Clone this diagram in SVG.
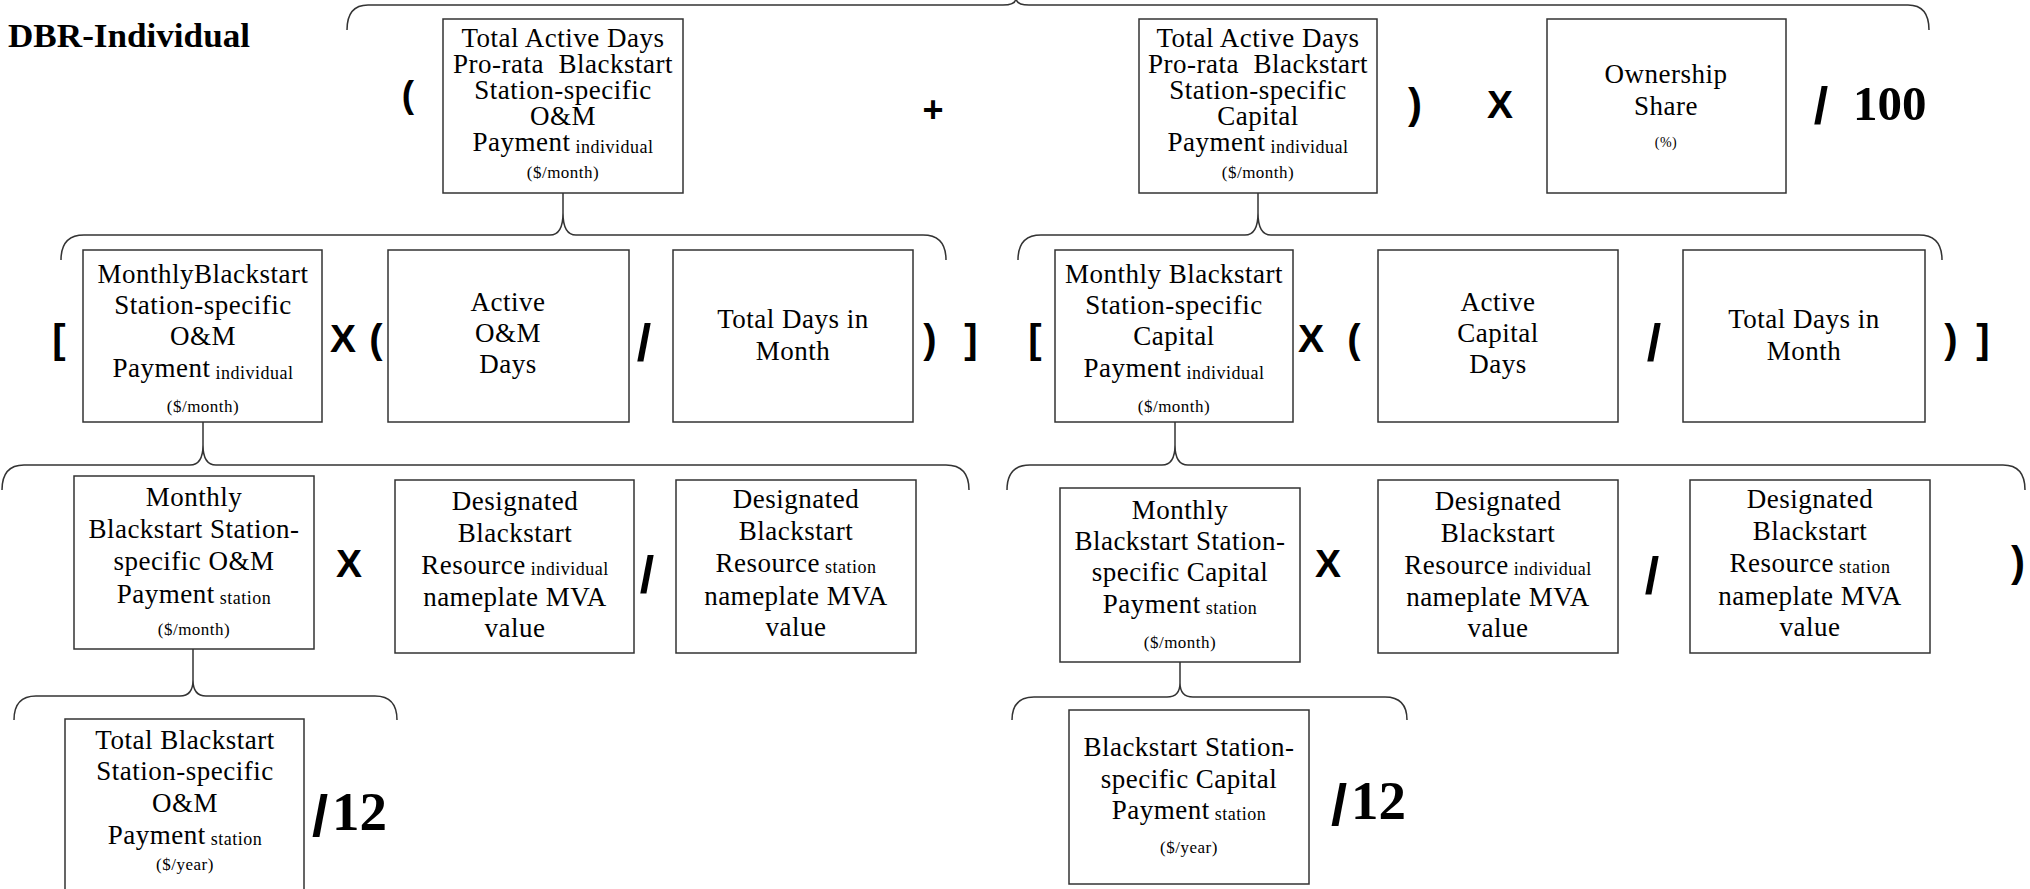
<svg xmlns="http://www.w3.org/2000/svg" width="2030" height="889" viewBox="0 0 2030 889">
<style>
.bg{fill:#fff}
.box{fill:#fff;stroke:#333;stroke-width:1.5}
.t{font-family:"Liberation Serif","Times New Roman",serif;font-size:27px;text-anchor:middle;fill:#000;letter-spacing:0.5px}
.sub{font-size:18px}
.sm{font-size:17px}
.xs{font-size:14px}
.op{font-family:"Liberation Sans",Arial,sans-serif;font-weight:bold;text-anchor:middle;fill:#000}
.num{font-family:"Liberation Serif","Times New Roman",serif;font-weight:bold;fill:#000}
.brace{fill:none;stroke:#333;stroke-width:1.5}
</style>
<rect class="bg" x="0" y="0" width="2030" height="889"/>
<text id="title" class="num" x="8" y="47" font-size="33" textLength="242" lengthAdjust="spacingAndGlyphs">DBR-Individual</text>

<g id="connectors">
  <path class="brace" d="M347 30 Q347 5 368 5 L1003 5 Q1016 5 1016 -2 Q1016 5 1029 5 L1908 5 Q1929 5 1929 30"/>
  <path class="brace" d="M563 193 L563 213"/>
  <path class="brace" d="M61 260 Q61 235 84 235 L550 235 Q563 235 563 213 Q563 235 576 235 L923 235 Q946 235 946 260"/>
  <path class="brace" d="M1258 193 L1258 213"/>
  <path class="brace" d="M1018 260 Q1018 235 1041 235 L1245 235 Q1258 235 1258 213 Q1258 235 1271 235 L1919 235 Q1942 235 1942 260"/>
  <path class="brace" d="M203 422 L203 445"/>
  <path class="brace" d="M2 490 Q2 465 24 465 L190 465 Q203 465 203 445 Q203 465 216 465 L946 465 Q969 465 969 490"/>
  <path class="brace" d="M1175 422 L1175 445"/>
  <path class="brace" d="M1007 490 Q1007 465 1030 465 L1162 465 Q1175 465 1175 445 Q1175 465 1188 465 L2003 465 Q2025 465 2025 490"/>
  <path class="brace" d="M193 649 L193 680"/>
  <path class="brace" d="M14 720 Q14 696 36 696 L180 696 Q193 696 193 680 Q193 696 206 696 L375 696 Q397 696 397 720"/>
  <path class="brace" d="M1180 662 L1180 683"/>
  <path class="brace" d="M1012 720 Q1012 697 1034 697 L1167 697 Q1180 697 1180 683 Q1180 697 1193 697 L1385 697 Q1407 697 1407 720"/>
</g>

<g id="operators">
  <text class="op" x="408" y="107" font-size="37" font-weight="normal">(</text>
  <text class="op" x="933" y="122" font-size="36">+</text>
  <text class="op" x="1415" y="118" font-size="42">)</text>
  <text class="op" x="1500" y="118" font-size="39">X</text>
  <text class="op" x="1821" y="124" font-size="52">/</text>
  <text class="num" x="1853" y="120" font-size="49">100</text>

  <text class="op" x="59" y="353" font-size="40">[</text>
  <text class="op" x="343" y="352" font-size="39">X</text>
  <text class="op" x="376" y="353" font-size="40">(</text>
  <text class="op" x="644" y="361" font-size="52">/</text>
  <text class="op" x="930" y="353" font-size="40">)</text>
  <text class="op" x="971" y="353" font-size="40">]</text>

  <text class="op" x="1035" y="353" font-size="40">[</text>
  <text class="op" x="1311" y="352" font-size="39">X</text>
  <text class="op" x="1354" y="353" font-size="40">(</text>
  <text class="op" x="1654" y="361" font-size="52">/</text>
  <text class="op" x="1951" y="353" font-size="40">)</text>
  <text class="op" x="1983" y="353" font-size="40">]</text>

  <text class="op" x="349" y="577" font-size="39">X</text>
  <text class="op" x="647" y="593" font-size="52">/</text>
  <text class="op" x="1328" y="577" font-size="39">X</text>
  <text class="op" x="1652" y="594" font-size="52">/</text>
  <text class="op" x="2018" y="576" font-size="42">)</text>

  <text class="op" x="320" y="836" font-size="58">/</text>
  <text class="num" x="332" y="830" font-size="55">12</text>
  <text class="op" x="1339" y="825" font-size="58">/</text>
  <text class="num" x="1351" y="819" font-size="55">12</text>
</g>

<g id="node-om-prorata">
  <rect class="box" x="443" y="19" width="240" height="174"/>
  <text class="t" x="563" y="47">Total Active Days</text>
  <text class="t" x="563" y="73" xml:space="preserve">Pro-rata  Blackstart</text>
  <text class="t" x="563" y="99">Station-specific</text>
  <text class="t" x="563" y="125">O&amp;M</text>
  <text class="t" x="563" y="151">Payment<tspan class="sub" dy="2"> individual</tspan></text>
  <text class="t sm" x="563" y="178">($/month)</text>
</g>

<g id="node-cap-prorata">
  <rect class="box" x="1139" y="19" width="238" height="174"/>
  <text class="t" x="1258" y="47">Total Active Days</text>
  <text class="t" x="1258" y="73" xml:space="preserve">Pro-rata  Blackstart</text>
  <text class="t" x="1258" y="99">Station-specific</text>
  <text class="t" x="1258" y="125">Capital</text>
  <text class="t" x="1258" y="151">Payment<tspan class="sub" dy="2"> individual</tspan></text>
  <text class="t sm" x="1258" y="178">($/month)</text>
</g>

<g id="node-ownership">
  <rect class="box" x="1547" y="19" width="239" height="174"/>
  <text class="t" x="1666" y="83">Ownership</text>
  <text class="t" x="1666" y="115">Share</text>
  <text class="t xs" x="1666" y="147">(%)</text>
</g>

<g id="node-om-monthly-individual">
  <rect class="box" x="83" y="250" width="239" height="172"/>
  <text class="t" x="203" y="283">MonthlyBlackstart</text>
  <text class="t" x="203" y="314">Station-specific</text>
  <text class="t" x="203" y="345">O&amp;M</text>
  <text class="t" x="203" y="377">Payment<tspan class="sub" dy="2"> individual</tspan></text>
  <text class="t sm" x="203" y="412">($/month)</text>
</g>

<g id="node-om-active-days">
  <rect class="box" x="388" y="250" width="241" height="172"/>
  <text class="t" x="508" y="311">Active</text>
  <text class="t" x="508" y="342">O&amp;M</text>
  <text class="t" x="508" y="373">Days</text>
</g>

<g id="node-om-total-days">
  <rect class="box" x="673" y="250" width="240" height="172"/>
  <text class="t" x="793" y="328">Total Days in</text>
  <text class="t" x="793" y="360">Month</text>
</g>

<g id="node-cap-monthly-individual">
  <rect class="box" x="1055" y="250" width="238" height="172"/>
  <text class="t" x="1174" y="283">Monthly Blackstart</text>
  <text class="t" x="1174" y="314">Station-specific</text>
  <text class="t" x="1174" y="345">Capital</text>
  <text class="t" x="1174" y="377">Payment<tspan class="sub" dy="2"> individual</tspan></text>
  <text class="t sm" x="1174" y="412">($/month)</text>
</g>

<g id="node-cap-active-days">
  <rect class="box" x="1378" y="250" width="240" height="172"/>
  <text class="t" x="1498" y="311">Active</text>
  <text class="t" x="1498" y="342">Capital</text>
  <text class="t" x="1498" y="373">Days</text>
</g>

<g id="node-cap-total-days">
  <rect class="box" x="1683" y="250" width="242" height="172"/>
  <text class="t" x="1804" y="328">Total Days in</text>
  <text class="t" x="1804" y="360">Month</text>
</g>

<g id="node-om-monthly-station">
  <rect class="box" x="74" y="476" width="240" height="173"/>
  <text class="t" x="194" y="506">Monthly</text>
  <text class="t" x="194" y="538">Blackstart Station-</text>
  <text class="t" x="194" y="570">specific O&amp;M</text>
  <text class="t" x="194" y="603">Payment<tspan class="sub" dy="1"> station</tspan></text>
  <text class="t sm" x="194" y="635">($/month)</text>
</g>

<g id="node-om-mva-individual">
  <rect class="box" x="395" y="480" width="239" height="173"/>
  <text class="t" x="515" y="510">Designated</text>
  <text class="t" x="515" y="542">Blackstart</text>
  <text class="t" x="515" y="574">Resource<tspan class="sub" dy="1"> individual</tspan></text>
  <text class="t" x="515" y="606">nameplate MVA</text>
  <text class="t" x="515" y="637">value</text>
</g>

<g id="node-om-mva-station">
  <rect class="box" x="676" y="480" width="240" height="173"/>
  <text class="t" x="796" y="508">Designated</text>
  <text class="t" x="796" y="540">Blackstart</text>
  <text class="t" x="796" y="572">Resource<tspan class="sub" dy="1"> station</tspan></text>
  <text class="t" x="796" y="605">nameplate MVA</text>
  <text class="t" x="796" y="636">value</text>
</g>

<g id="node-cap-monthly-station">
  <rect class="box" x="1060" y="488" width="240" height="174"/>
  <text class="t" x="1180" y="519">Monthly</text>
  <text class="t" x="1180" y="550">Blackstart Station-</text>
  <text class="t" x="1180" y="581">specific Capital</text>
  <text class="t" x="1180" y="613">Payment<tspan class="sub" dy="1"> station</tspan></text>
  <text class="t sm" x="1180" y="648">($/month)</text>
</g>

<g id="node-cap-mva-individual">
  <rect class="box" x="1378" y="480" width="240" height="173"/>
  <text class="t" x="1498" y="510">Designated</text>
  <text class="t" x="1498" y="542">Blackstart</text>
  <text class="t" x="1498" y="574">Resource<tspan class="sub" dy="1"> individual</tspan></text>
  <text class="t" x="1498" y="606">nameplate MVA</text>
  <text class="t" x="1498" y="637">value</text>
</g>

<g id="node-cap-mva-station">
  <rect class="box" x="1690" y="480" width="240" height="173"/>
  <text class="t" x="1810" y="508">Designated</text>
  <text class="t" x="1810" y="540">Blackstart</text>
  <text class="t" x="1810" y="572">Resource<tspan class="sub" dy="1"> station</tspan></text>
  <text class="t" x="1810" y="605">nameplate MVA</text>
  <text class="t" x="1810" y="636">value</text>
</g>

<g id="node-om-annual">
  <rect class="box" x="65" y="719" width="239" height="180"/>
  <text class="t" x="185" y="749">Total Blackstart</text>
  <text class="t" x="185" y="780">Station-specific</text>
  <text class="t" x="185" y="812">O&amp;M</text>
  <text class="t" x="185" y="844">Payment<tspan class="sub" dy="1"> station</tspan></text>
  <text class="t sm" x="185" y="870">($/year)</text>
</g>

<g id="node-cap-annual">
  <rect class="box" x="1069" y="710" width="240" height="174"/>
  <text class="t" x="1189" y="756">Blackstart Station-</text>
  <text class="t" x="1189" y="788">specific Capital</text>
  <text class="t" x="1189" y="819">Payment<tspan class="sub" dy="1"> station</tspan></text>
  <text class="t sm" x="1189" y="853">($/year)</text>
</g>
</svg>
